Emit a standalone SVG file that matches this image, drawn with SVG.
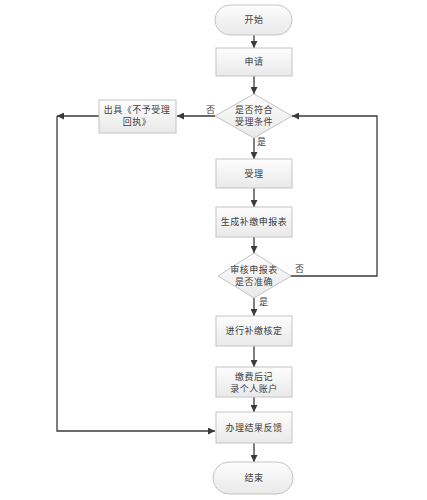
<svg xmlns="http://www.w3.org/2000/svg" width="427" height="500" viewBox="0 0 427 500">
<defs>
<linearGradient id="g" x1="0" y1="0" x2="0" y2="1">
<stop offset="0" stop-color="#fdfdfd"/>
<stop offset="1" stop-color="#e9e9e9"/>
</linearGradient>
<marker id="ah" viewBox="0 0 10 10" refX="10" refY="5" markerWidth="7" markerHeight="7" markerUnits="userSpaceOnUse" orient="auto">
<path d="M0,0 L10,5 L0,10 z" fill="#3a3a3a"/>
</marker>
</defs>
<style>
.s{fill:url(#g);stroke:#c4c4c4;stroke-width:1}
.t{font-family:"Noto Sans CJK SC",sans-serif;font-size:9px;fill:#404040;text-anchor:middle;letter-spacing:0.5px}
.l{font-family:"Noto Sans CJK SC",sans-serif;font-size:9px;fill:#404040}
.c{fill:none;stroke:#3a3a3a;stroke-width:1.3;marker-end:url(#ah)}
</style>
<rect width="427" height="500" fill="#ffffff"/>
<g id="connectors">
<line class="c" x1="254" y1="35" x2="254" y2="48"/>
<line class="c" x1="254" y1="76" x2="254" y2="94"/>
<line class="c" x1="215" y1="116" x2="177" y2="116"/>
<line class="c" x1="99" y1="116" x2="57" y2="116"/>
<polyline class="c" points="57,116 57,431 215,431"/>
<line class="c" x1="254" y1="138" x2="254" y2="159"/>
<line class="c" x1="254" y1="188" x2="254" y2="207"/>
<line class="c" x1="254" y1="237" x2="254" y2="253"/>
<polyline class="c" points="291,276 377,276 377,116 292,116"/>
<line class="c" x1="254" y1="298" x2="254" y2="316"/>
<line class="c" x1="254" y1="346" x2="254" y2="367"/>
<line class="c" x1="254" y1="397" x2="254" y2="412"/>
<line class="c" x1="254" y1="443" x2="254" y2="462"/>
<text class="l" x="206" y="113">否</text>
<text class="l" x="257" y="145">是</text>
<text class="l" x="295" y="272">否</text>
<text class="l" x="259" y="305">是</text>
</g>
<g id="start"><rect class="s" x="215" y="5" width="77" height="30" rx="15"/><text class="t" x="254" y="23">开始</text></g>
<g id="apply"><rect class="s" x="216" y="48" width="76" height="28"/><text class="t" x="254" y="65">申请</text></g>
<g id="check"><polygon class="s" points="254,94 292,116 254,138 215,116"/><text class="t" x="254" y="113">是否符合</text><text class="t" x="254" y="125">受理条件</text></g>
<g id="reject"><rect class="s" x="99" y="100" width="77" height="33"/><text class="t" x="137" y="113">出具《不予受理</text><text class="t" x="137" y="125">回执》</text></g>
<g id="accept"><rect class="s" x="216" y="159" width="76" height="29"/><text class="t" x="254" y="177">受理</text></g>
<g id="generate"><rect class="s" x="216" y="207" width="76" height="30"/><text class="t" x="254" y="225">生成补缴申报表</text></g>
<g id="review"><polygon class="s" points="254,253 291,276 254,298 218,276"/><text class="t" x="254" y="273">审核申报表</text><text class="t" x="254" y="285">是否准确</text></g>
<g id="verify"><rect class="s" x="216" y="316" width="76" height="30"/><text class="t" x="254" y="334">进行补缴核定</text></g>
<g id="record"><rect class="s" x="216" y="367" width="76" height="30"/><text class="t" x="254" y="380">缴费后记</text><text class="t" x="254" y="392">录个人账户</text></g>
<g id="feedback"><rect class="s" x="216" y="412" width="76" height="31"/><text class="t" x="254" y="431">办理结果反馈</text></g>
<g id="end"><rect class="s" x="213" y="462" width="80" height="32" rx="16"/><text class="t" x="254" y="481">结束</text></g>
</svg>
